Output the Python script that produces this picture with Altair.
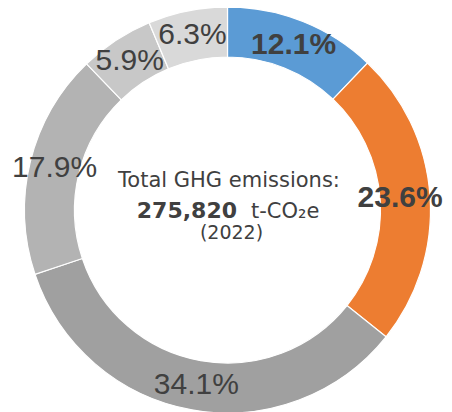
import altair as alt
import pandas as pd

categories = ["Seg 1", "Seg 2", "Seg 3", "Seg 4", "Seg 5", "Seg 6"]
shares = [12.1, 23.6, 34.1, 17.9, 5.9, 6.3]
labels = ["12.1%", "23.6%", "34.1%", "17.9%", "5.9%", "6.3%"]
bold = [True, True, False, False, False, False]
colors = ["#5B9BD5", "#ED7D31", "#A0A0A0", "#B3B3B3", "#C8C8C8", "#D9D9D9"]

center_line1 = "Total GHG emissions:"
center_value = "275,820"
center_unit = "t-CO\u2082e"
center_year = "(2022)"

df = pd.DataFrame({
    "cat": categories,
    "value": shares,
    "label": labels,
    "bold": bold,
    "idx": list(range(len(categories))),
})

W, H = 436, 404
CX, CY = 219.5, 202

arcs = alt.Chart(df).mark_arc(innerRadius=153, outerRadius=203, stroke="white", strokeWidth=1.2).encode(
    theta=alt.Theta("value:Q", stack=True),
    order=alt.Order("idx:Q"),
    color=alt.Color("cat:N", scale=alt.Scale(domain=categories, range=colors), legend=None),
    x=alt.value(CX),
    y=alt.value(CY),
)

lbl_base = alt.Chart(df).transform_joinaggregate(
    total="sum(value)"
).transform_window(
    cum="sum(value)", sort=[alt.SortField("idx")], frame=[None, 0]
).transform_calculate(
    mid="(datum.cum - datum.value / 2) / datum.total * 2 * PI",
    r="datum.label == '23.6%' ? 173 : 178",
).encode(
    theta=alt.Theta("mid:Q", scale=None),
    radius=alt.Radius("r:Q", scale=None),
    text=alt.Text("label:N"),
    x=alt.value(CX),
    y=alt.value(CY),
)

normal_lbl = lbl_base.transform_filter("!datum.bold").mark_text(
    font="Liberation Sans", fontSize=30, color="#404040", baseline="middle", align="center"
)

bold_lbl = lbl_base.transform_filter("datum.bold").mark_text(
    font="Liberation Sans", fontSize=30, fontWeight="bold", color="#404040", baseline="middle", align="center"
)

tdf = pd.DataFrame({"a": [0]})
t1 = alt.Chart(tdf).mark_text(
    text=center_line1, font="DejaVu Sans", fontSize=21, color="#404040", align="center", baseline="alphabetic"
).encode(x=alt.value(221), y=alt.value(179))
t2a = alt.Chart(tdf).mark_text(
    text=center_value, font="DejaVu Sans", fontSize=22, fontWeight="bold", color="#404040", align="right", baseline="alphabetic"
).encode(x=alt.value(229), y=alt.value(210))
t2b = alt.Chart(tdf).mark_text(
    text=center_unit, font="DejaVu Sans", fontSize=21, color="#404040", align="left", baseline="alphabetic"
).encode(x=alt.value(243), y=alt.value(210))
t3 = alt.Chart(tdf).mark_text(
    text=center_year, font="DejaVu Sans", fontSize=19, color="#404040", align="center", baseline="alphabetic"
).encode(x=alt.value(223.5), y=alt.value(231))

chart = alt.layer(arcs, normal_lbl, bold_lbl, t1, t2a, t2b, t3).properties(
    width=W, height=H,
    autosize=alt.AutoSizeParams(type="none"),
    padding=0,
).configure_view(stroke=None)

chart.save("out.html", embed_options={"renderer": "svg", "actions": False})
